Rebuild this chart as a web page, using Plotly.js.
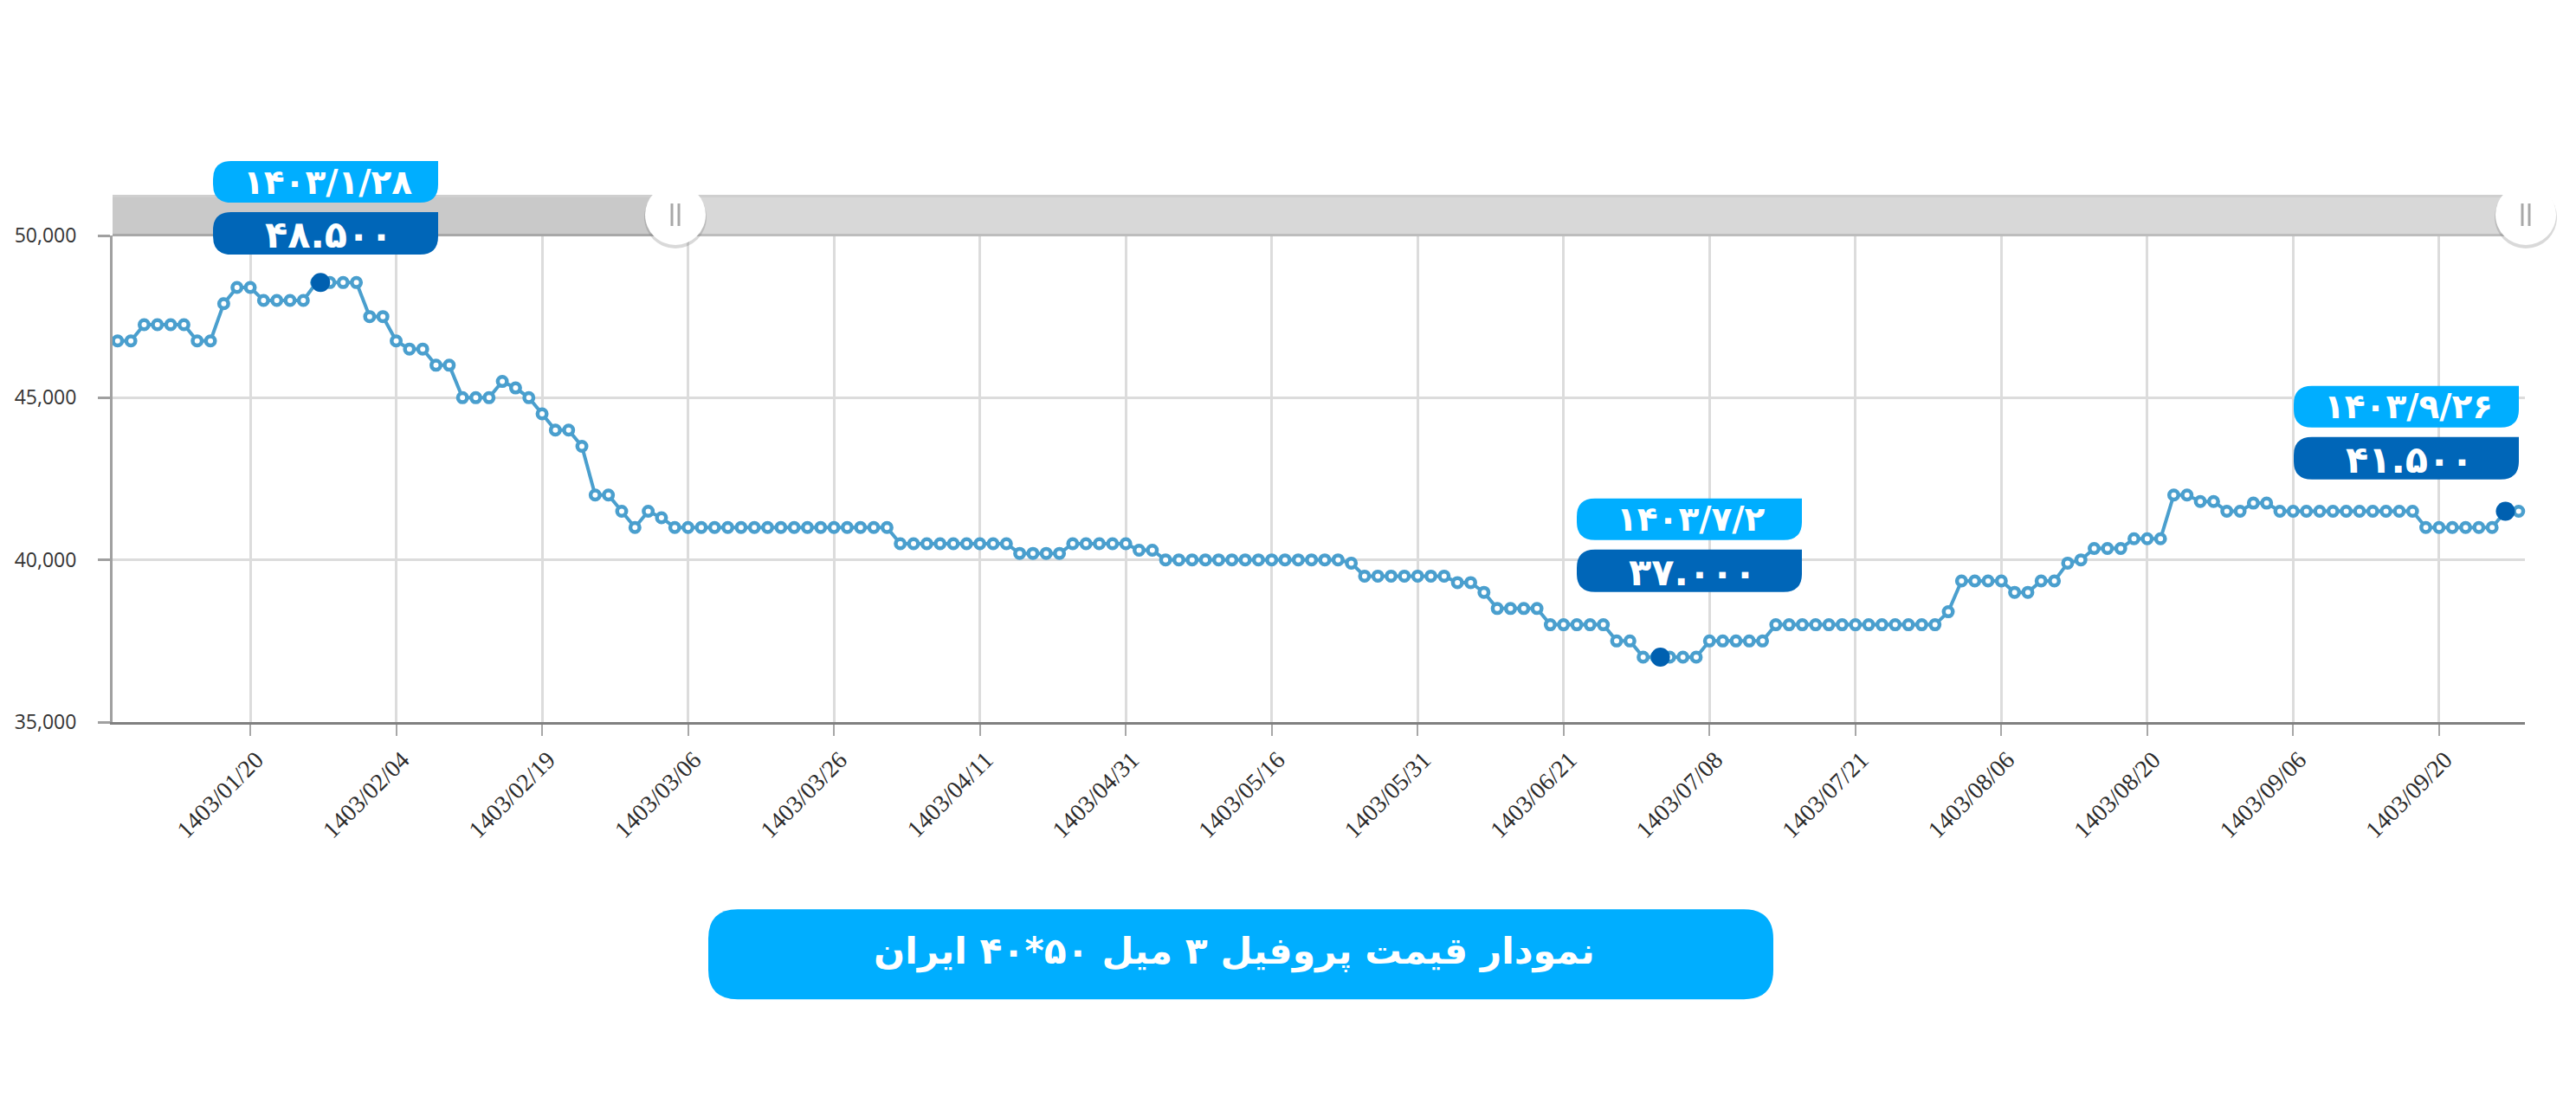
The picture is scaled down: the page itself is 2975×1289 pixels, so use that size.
<!DOCTYPE html>
<html>
<head>
<meta charset="utf-8">
<script src="https://cdn.plot.ly/plotly-3.0.1.min.js"></script>
<style>
  html, body { margin: 0; padding: 0; background: #fff; }
</style>
</head>
<body>
<div id="plotly"></div>
<script>
var prices = [
  46750, 46750, 47250, 47250, 47250, 47250, 46750, 46750, 47900, 48400,
  48400, 48000, 48000, 48000, 48000, 48550, 48550, 48550, 48550, 47500,
  47500, 46750, 46500, 46500, 46000, 46000, 45000, 45000, 45000, 45500,
  45300, 45000, 44500, 44000, 44000, 43500, 42000, 42000, 41500, 41000,
  41500, 41300, 41000, 41000, 41000, 41000, 41000, 41000, 41000, 41000,
  41000, 41000, 41000, 41000, 41000, 41000, 41000, 41000, 41000, 40500,
  40500, 40500, 40500, 40500, 40500, 40500, 40500, 40500, 40200, 40200,
  40200, 40200, 40500, 40500, 40500, 40500, 40500, 40300, 40300, 40000,
  40000, 40000, 40000, 40000, 40000, 40000, 40000, 40000, 40000, 40000,
  40000, 40000, 40000, 39900, 39500, 39500, 39500, 39500, 39500, 39500,
  39500, 39300, 39300, 39000, 38500, 38500, 38500, 38500, 38000, 38000,
  38000, 38000, 38000, 37500, 37500, 37000, 37000, 37000, 37000, 37000,
  37500, 37500, 37500, 37500, 37500, 38000, 38000, 38000, 38000, 38000,
  38000, 38000, 38000, 38000, 38000, 38000, 38000, 38000, 38400, 39350,
  39350, 39350, 39350, 39000, 39000, 39350, 39350, 39900, 40000, 40350,
  40350, 40350, 40650, 40650, 40650, 42000, 42000, 41800, 41800, 41500,
  41500, 41750, 41750, 41500, 41500, 41500, 41500, 41500, 41500, 41500,
  41500, 41500, 41500, 41500, 41000, 41000, 41000, 41000, 41000, 41000,
  41500, 41500
];

var tickIndex = [10, 21, 32, 43, 54, 65, 76, 87, 98, 109, 120, 131, 142, 153, 164, 175];
var tickLabels = [
  '1403/01/20', '1403/02/04', '1403/02/19', '1403/03/06',
  '1403/03/26', '1403/04/11', '1403/04/31', '1403/05/16',
  '1403/05/31', '1403/06/21', '1403/07/08', '1403/07/21',
  '1403/08/06', '1403/08/20', '1403/09/06', '1403/09/20'
];
var priceTicks = [35000, 40000, 45000, 50000];

var peakIndex = [15.3, 116.3, 180];
var peakPrices = [48550, 37000, 41500];
var peakDates = ['۱۴۰۳/۱/۲۸', '۱۴۰۳/۷/۲', '۱۴۰۳/۹/۲۶'];
var peakValues = ['۴۸.۵۰۰', '۳۷.۰۰۰', '۴۱.۵۰۰'];
var chartTitle = 'نمودار قیمت پروفیل ۳ میل ۵۰*۴۰ ایران';

// plot box in page pixels
var left = 130, right = 2916, top_ = 272, bottom = 834.5;
var px = function (x) { return (x - left) / (right - left); };
var py = function (y) { return (bottom - y) / (bottom - top_); };

var lightBlue = '#00aeff';
var darkBlue = '#0066b8';
var ringBlue = '#4a9fce';
var arabicFont = '"DejaVu Sans", "Noto Sans", sans-serif';

function rect(x0, y0, x1, y1, color) {
  return {
    type: 'rect', xref: 'paper', yref: 'paper', layer: 'above',
    x0: px(x0), x1: px(x1), y0: py(y0), y1: py(y1),
    fillcolor: color, line: {width: 0}
  };
}

function circle(cx, cy, r, color) {
  return {
    type: 'circle', xref: 'paper', yref: 'paper', layer: 'above',
    x0: px(cx - r), x1: px(cx + r), y0: py(cy - r), y1: py(cy + r),
    fillcolor: color, line: {width: 0}
  };
}

function bar(x, y0, y1) {
  return {
    type: 'line', xref: 'paper', yref: 'paper', layer: 'above',
    x0: px(x), x1: px(x), y0: py(y0), y1: py(y1),
    line: {color: '#a8a8a8', width: 3}
  };
}

// square top right corner, the other three rounded
function tag(x0, y0, x1, y1, r, color) {
  var p = function (x, y) { return px(x) + ',' + py(y); };
  var d = 'M' + p(x0 + r, y0) + ' L' + p(x1, y0) + ' L' + p(x1, y1 - r) +
    ' Q' + p(x1, y1) + ' ' + p(x1 - r, y1) + ' L' + p(x0 + r, y1) +
    ' Q' + p(x0, y1) + ' ' + p(x0, y1 - r) + ' L' + p(x0, y0 + r) +
    ' Q' + p(x0, y0) + ' ' + p(x0 + r, y0) + ' Z';
  return {
    type: 'path', xref: 'paper', yref: 'paper', layer: 'above',
    path: d, fillcolor: color, line: {width: 0}
  };
}

function pill(x0, y0, x1, y1, r, color) {
  var p = function (x, y) { return px(x) + ',' + py(y); };
  var d = 'M' + p(x0 + r, y0) + ' L' + p(x1 - r, y0) +
    ' Q' + p(x1, y0) + ' ' + p(x1, y0 + r) + ' L' + p(x1, y1 - r) +
    ' Q' + p(x1, y1) + ' ' + p(x1 - r, y1) + ' L' + p(x0 + r, y1) +
    ' Q' + p(x0, y1) + ' ' + p(x0, y1 - r) + ' L' + p(x0, y0 + r) +
    ' Q' + p(x0, y0) + ' ' + p(x0 + r, y0) + ' Z';
  return {
    type: 'path', xref: 'paper', yref: 'paper', layer: 'above',
    path: d, fillcolor: color, line: {width: 0}
  };
}

function label(text, x, y, size) {
  return {
    xref: 'paper', yref: 'paper', x: px(x), y: py(y),
    xanchor: 'center', yanchor: 'middle', showarrow: false,
    text: text, font: {family: arabicFont, size: size, color: '#ffffff', weight: 700}
  };
}

var handleY = 248;
var handles = [780, 2917];
var tagLeft = [246, 1821, 2649];
var tagRight = [506, 2081, 2909];
var tagTop = [186, 576, 446];

var shapes = [
  rect(130, 226, 2916, 273, '#d8d8d8'),
  rect(130, 226, 780, 273, '#c9c9c9'),
  rect(130, 225, 2916, 228, '#cfcfcf'),
  rect(130, 270, 2916, 273, '#bdbdbd'),
  rect(130, 270, 780, 273, '#a8a8a8')
];
var annotations = [];

handles.forEach(function (x) {
  shapes.push(circle(x, handleY + 3, 36, 'rgba(120,120,120,0.28)'));
  shapes.push(circle(x, handleY, 35, '#ffffff'));
  shapes.push(bar(x - 4, handleY - 13, handleY + 13));
  shapes.push(bar(x + 4, handleY - 13, handleY + 13));
});

tagLeft.forEach(function (x0, i) {
  var x1 = tagRight[i], y = tagTop[i];
  shapes.push(tag(x0, y, x1, y + 48, 21, lightBlue));
  shapes.push(tag(x0, y + 59, x1, y + 108, 21, darkBlue));
  annotations.push(label(peakDates[i], (x0 + x1) / 2 + 2, y + 24, 39));
  annotations.push(label(peakValues[i], (x0 + x1) / 2 + 4, y + 85, 43));
});

shapes.push(pill(818, 1051, 2048, 1155, 34, lightBlue));
annotations.push(label(chartTitle, 1425, 1100, 42.5));

var line = {
  x: prices.map(function (p, i) { return i; }),
  y: prices,
  mode: 'lines+markers',
  cliponaxis: false,
  hoverinfo: 'skip',
  line: {color: ringBlue, width: 4},
  marker: {
    symbol: 'circle', size: 10.5, color: '#ffffff',
    line: {color: ringBlue, width: 4.5}
  }
};

var peaks = {
  x: peakIndex,
  y: peakPrices,
  mode: 'markers',
  cliponaxis: false,
  hoverinfo: 'skip',
  marker: {symbol: 'circle', size: 22, color: '#0060b0'}
};

var layout = {
  width: 2975,
  height: 1289,
  showlegend: false,
  paper_bgcolor: '#ffffff',
  plot_bgcolor: '#ffffff',
  margin: {l: left, r: 2975 - right, t: top_, b: 1289 - bottom, pad: 0},
  xaxis: {
    range: [-0.38, 181.47],
    tickmode: 'array',
    tickvals: tickIndex,
    ticktext: tickLabels,
    tickangle: -45,
    ticks: 'outside',
    ticklen: 13,
    tickwidth: 2,
    tickcolor: '#a8a8a8',
    ticklabelshift: 7,
    showgrid: true,
    gridcolor: '#dcdcdc',
    gridwidth: 2.5,
    zeroline: false,
    showline: true,
    linecolor: '#808080',
    linewidth: 3,
    tickfont: {family: '"Liberation Serif", serif', size: 28, color: '#2a2a2a'}
  },
  yaxis: {
    range: [35000, 50000],
    tickmode: 'array',
    tickvals: priceTicks,
    ticktext: priceTicks.map(function (v) { return v.toLocaleString('en-US'); }),
    ticks: 'outside',
    ticklen: 14,
    tickwidth: 2.5,
    tickcolor: '#a0a0a0',
    ticklabelstandoff: 20,
    showgrid: true,
    gridcolor: '#dcdcdc',
    gridwidth: 2.5,
    zeroline: false,
    showline: true,
    linecolor: '#a0a0a0',
    linewidth: 3,
    tickfont: {family: '"Open Sans", sans-serif', size: 23, color: '#333333'}
  },
  shapes: shapes,
  annotations: annotations
};

Plotly.newPlot('plotly', [line, peaks], layout, {displayModeBar: false, responsive: false});
</script>
</body>
</html>
